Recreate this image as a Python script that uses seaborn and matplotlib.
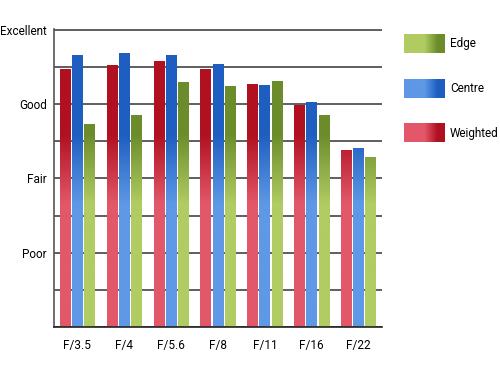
import numpy as np
import pandas as pd
import matplotlib
matplotlib.use('Agg')
import matplotlib.pyplot as plt
from matplotlib.colors import LinearSegmentedColormap
import seaborn as sns

# ── data ───────────────────────────────────────────────────────────────────────
apertures = ['F/3.5', 'F/4', 'F/5.6', 'F/8', 'F/11', 'F/16', 'F/22']
weighted  = [6.94, 7.05, 7.17, 6.95, 6.54, 5.98, 4.77]
centre    = [7.32, 7.38, 7.32, 7.09, 6.52, 6.05, 4.81]
edge      = [5.48, 5.71, 6.60, 6.50, 6.62, 5.71, 4.59]
series    = ['Weighted', 'Centre', 'Edge']
rating_labels = ['', '', 'Poor', '', 'Fair', '', 'Good', '', 'Excellent']

df = pd.DataFrame({
    'aperture': apertures * 3,
    'score': weighted + centre + edge,
    'metering': [s for s in series for _ in apertures],
})

# light -> dark for each series
shades = {
    'Weighted': ('#e2586a', '#b01020'),
    'Centre':   ('#5e98e6', '#1e5ec0'),
    'Edge':     ('#b0cc62', '#6c8c2c'),
}

sns.set_style('white')
plt.rcParams['font.family'] = ['Roboto', 'DejaVu Sans']
plt.rcParams['text.color'] = 'black'
plt.rcParams['xtick.color'] = 'black'
plt.rcParams['ytick.color'] = 'black'
fs = 8.5

fig = plt.figure(figsize=(5, 3.75), dpi=100)
ax = fig.add_axes([0.108, 0.128, 0.656, 0.795])

sns.barplot(data=df, x='aperture', y='score', hue='metering',
            hue_order=series, palette=[shades[s][1] for s in series],
            width=0.78, gap=0.12, legend=False, ax=ax)

# vertical gradient fill, clipped to each bar
ymax = 8.03
grad = np.linspace(0, ymax, 256).reshape(-1, 1)
for i, s in enumerate(series):
    light, dark = shades[s]
    cmap = LinearSegmentedColormap.from_list(
        s, [(0, light), (3.3 / ymax, light), (5.2 / ymax, dark), (1, dark)])
    for p in ax.containers[i]:
        x0 = p.get_x()
        x1 = x0 + p.get_width()
        p.set_facecolor('none')
        p.set_edgecolor('none')
        im = ax.imshow(grad, cmap=cmap, origin='lower', aspect='auto',
                       extent=[x0, x1, 0, ymax], vmin=0, vmax=ymax, zorder=2)
        im.set_clip_path(p)

ax.set_xlim(-0.5, len(apertures) - 0.5)
ax.set_ylim(0, ymax)
ax.set_yticks(range(9))
ax.set_yticklabels(rating_labels)
ax.yaxis.grid(True, color='#333333', lw=1.1)
ax.set_axisbelow(True)
ax.set_xlabel('')
ax.set_ylabel('')

ax.set_xticks(np.arange(len(apertures)) + 0.5, minor=True)
ax.tick_params(axis='x', which='major', length=0, pad=9, labelsize=fs)
ax.tick_params(axis='x', which='minor', direction='in', length=6,
               width=1.1, color='#222222')
ax.tick_params(axis='y', length=0, pad=5, labelsize=fs)

for side in ['top', 'right']:
    ax.spines[side].set_visible(False)
ax.spines['left'].set_color('#555555')
ax.spines['bottom'].set_color('#222222')
ax.spines['left'].set_linewidth(1.2)
ax.spines['bottom'].set_linewidth(1.2)

# legend with horizontal gradient swatches
hgrad = np.linspace(0, 1, 256).reshape(1, -1)
for k, s in enumerate(['Edge', 'Centre', 'Weighted']):
    light, dark = shades[s]
    cmap = LinearSegmentedColormap.from_list(
        s + '_h', [(0, light), (0.5, light), (0.82, dark), (1, dark)])
    top_px = 34 + k * 44.5
    lax = fig.add_axes([404 / 500, 1 - (top_px + 19.5) / 375, 41 / 500, 19.5 / 375])
    lax.imshow(hgrad, cmap=cmap, aspect='auto')
    lax.axis('off')
    fig.text(450 / 500, 1 - (top_px + 10) / 375, s, fontsize=fs,
             va='center', ha='left')

fig.savefig('out.png', dpi=100)
